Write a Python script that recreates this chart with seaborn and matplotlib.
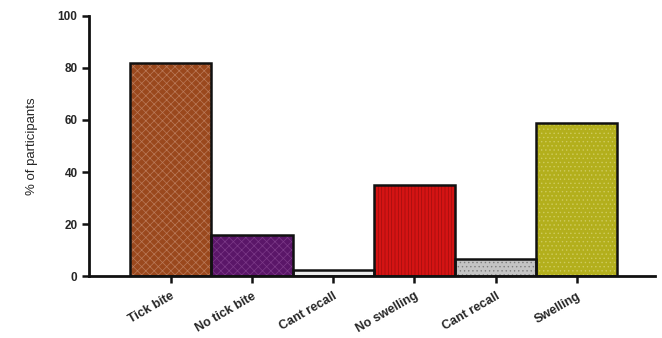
import matplotlib
matplotlib.use("Agg")
import matplotlib.pyplot as plt
from matplotlib.patches import Rectangle
import seaborn as sns
import pandas as pd

categories = ["Tick bite", "No tick bite", "Cant recall", "No swelling", "Cant recall ", "Swelling"]
tick_labels = ["Tick bite", "No tick bite", "Cant recall", "No swelling", "Cant recall", "Swelling"]
percent = [82, 16, 2.5, 35, 6.5, 59]
fill_colors = ["#9A481D", "#5A1668", "#EDEDED", "#D41414", "#C4C4C4", "#B3AF1C"]
hatch_colors = ["#BA7A5A", "#7C3A88", "#9A9A9A", "#A00E0E", "#7E7E7E", "#CFCB5E"]
hatches = ["xxxx", "xxxx", "", "|||||", "....", "...."]

sns.set_theme(style="ticks")
plt.rcParams["font.family"] = ["Liberation Sans", "DejaVu Sans"]
plt.rcParams["hatch.linewidth"] = 0.5

df = pd.DataFrame({"category": categories, "percent": percent})

fig = plt.figure(figsize=(6.62, 3.38), dpi=100)
ax = fig.add_axes([0.134, 0.183, 0.855, 0.770])

sns.barplot(data=df, x="category", y="percent", hue="category",
            palette=fill_colors, legend=False, width=1.0, ax=ax,
            linewidth=0, saturation=1)

# hatched fills, then a dark outline around each bar
for patch, hc, h in zip(ax.patches, hatch_colors, hatches):
    patch.set_hatch(h)
    patch.set_edgecolor(hc)
    patch.set_linewidth(0)
    ax.add_patch(Rectangle(patch.get_xy(), patch.get_width(), patch.get_height(),
                           fill=False, edgecolor="#111111", linewidth=1.8, zorder=3))

ax.set_ylim(0, 100)
ax.set_xlim(-1.01, 5.96)
ax.set_yticks([0, 20, 40, 60, 80, 100])
ax.set_xticks(range(len(tick_labels)))
ax.set_xticklabels(tick_labels, rotation=30, ha="right", rotation_mode="anchor",
                   fontsize=9, fontweight="bold")
ax.tick_params(axis="y", labelsize=8.5, width=1.8, length=5, color="#111111", pad=3)
ax.tick_params(axis="x", width=1.8, length=5, color="#111111", pad=5)
for lab in ax.get_yticklabels():
    lab.set_fontweight("bold")
ax.set_xlabel("")
ax.set_ylabel("% of participants", fontsize=9.5, labelpad=14)

for side in ["left", "bottom"]:
    ax.spines[side].set_linewidth(2)
    ax.spines[side].set_color("#111111")
sns.despine(ax=ax)

fig.savefig("out.png", dpi=100)
